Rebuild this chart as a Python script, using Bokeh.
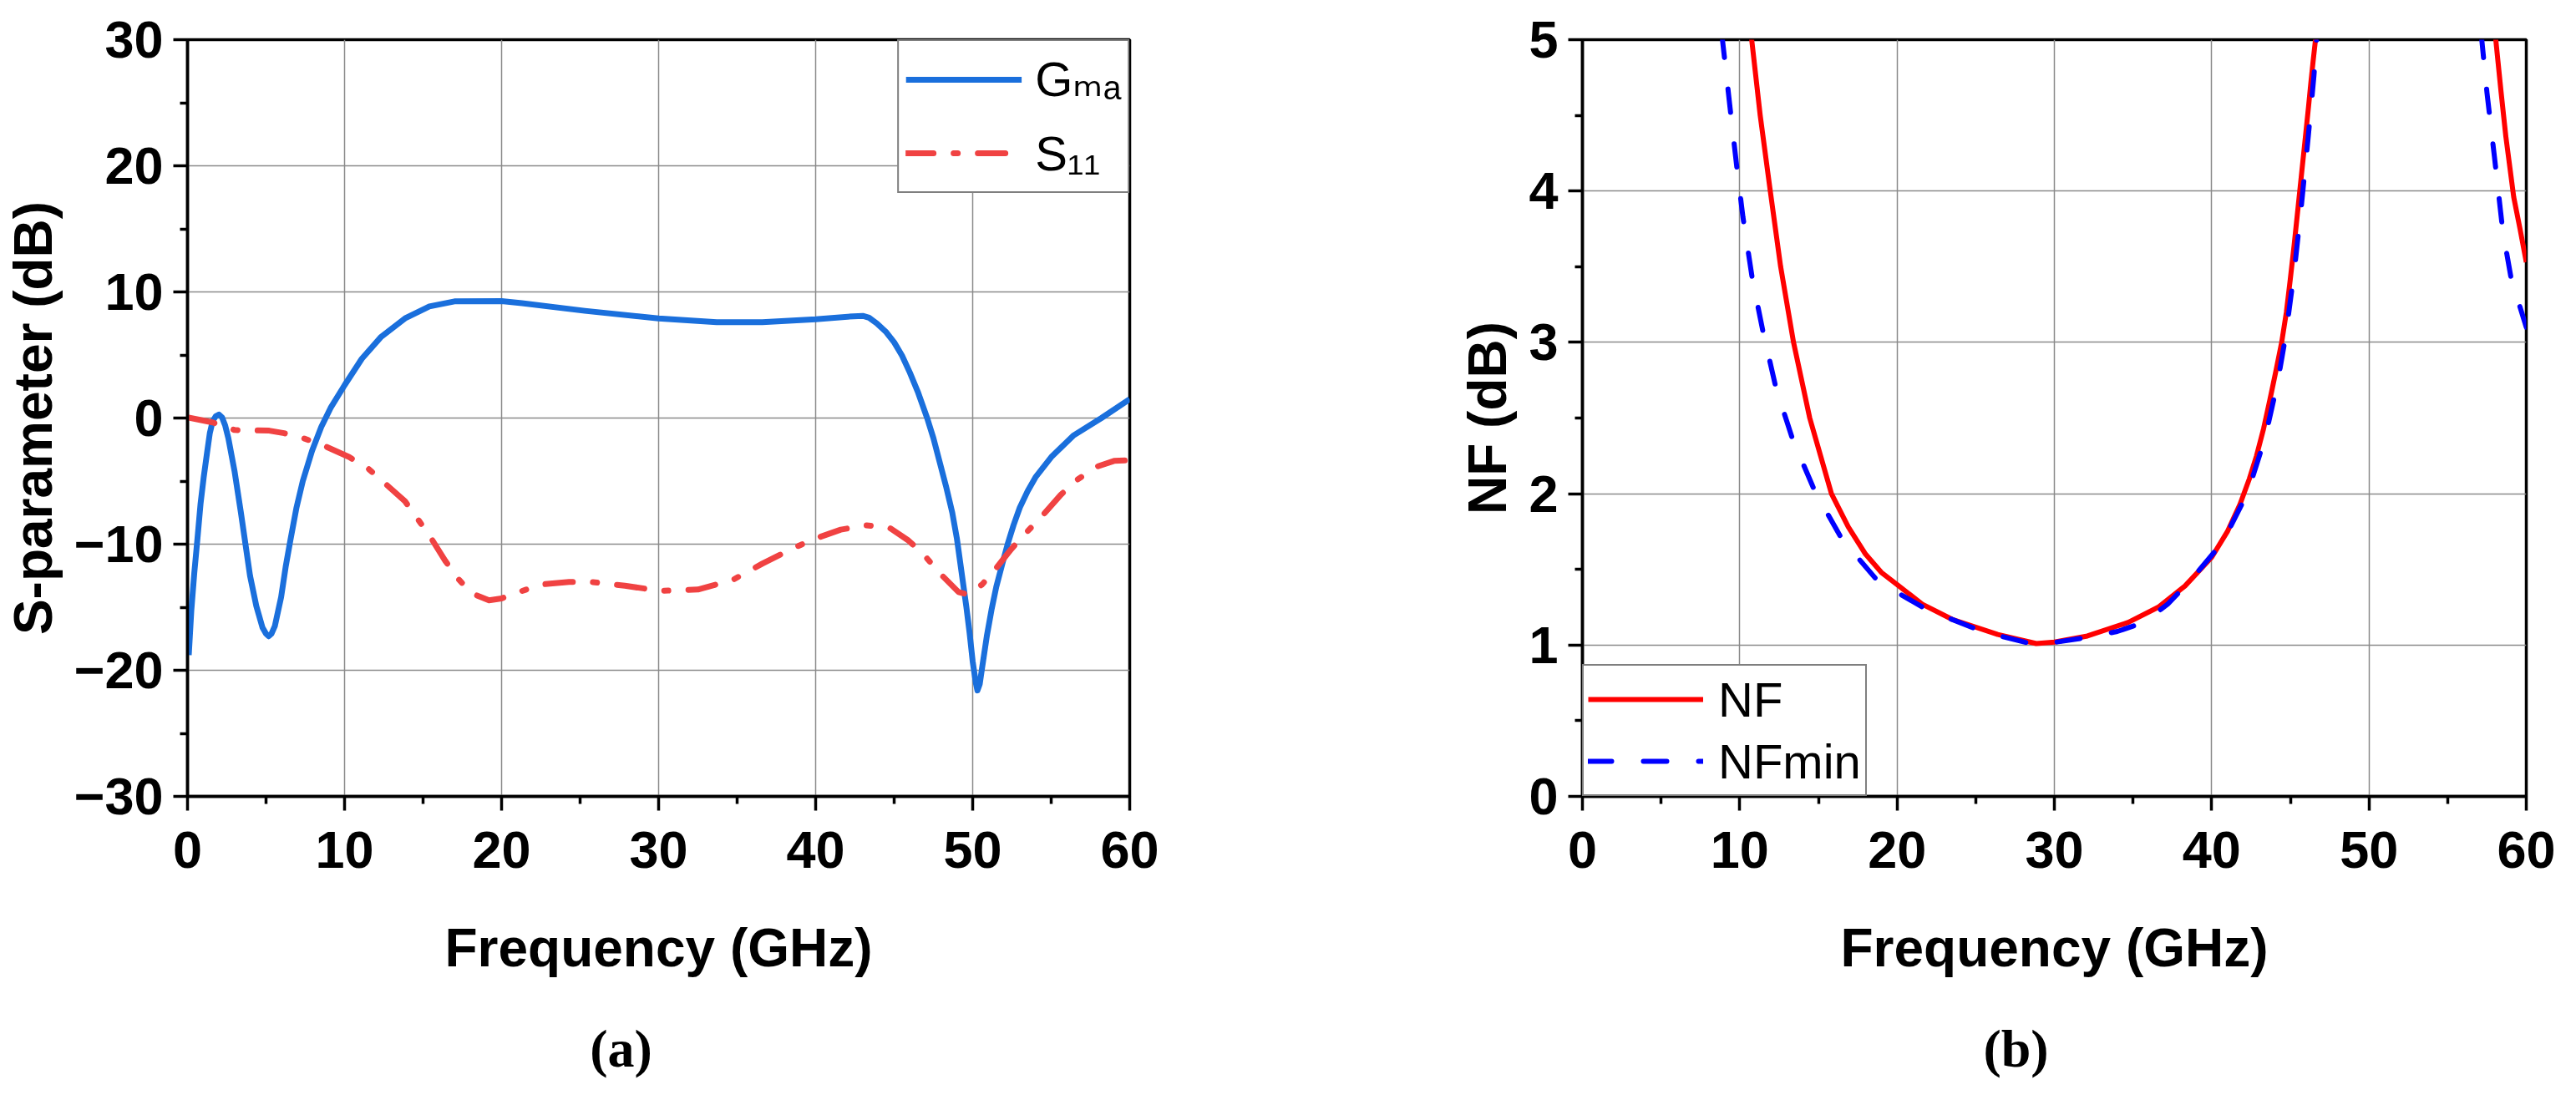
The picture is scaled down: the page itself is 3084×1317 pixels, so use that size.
from bokeh.plotting import figure
from bokeh.layouts import row, column
from bokeh.models import Range1d, FixedTicker
from bokeh.core.properties import value
from bokeh.embed import file_html
from bokeh.resources import INLINE

nan = float("nan")

# ---------------- data ----------------
gma_freq = [0.08, 0.24, 0.43, 0.63, 0.83, 1.03, 1.25, 1.42, 1.6, 1.8, 2.0, 2.2, 2.4, 2.6,
            3.0, 3.4, 3.69, 3.98, 4.38, 4.77, 5.0, 5.17, 5.35, 5.56, 5.96, 6.25, 6.55,
            6.94, 7.34, 7.93, 8.52, 9.11, 10.0, 11.1, 12.3, 13.85, 15.4,
            17.0, 20.0, 21.3, 25.3, 30.0, 33.7, 36.6, 40.0, 42.4, 43.0, 43.4, 43.9, 44.5,
            45.0, 45.5, 46.0, 46.5, 47.1, 47.5, 47.9, 48.3, 48.7, 49.0, 49.3, 49.6, 49.8,
            50.0, 50.2, 50.3, 50.45, 50.6, 50.9, 51.2, 51.5, 51.9, 52.25, 52.6, 53.0, 53.5,
            54.0, 55.0, 56.4, 58.2, 60.0]
gma_db = [-18.8, -15.3, -12.3, -9.6, -6.8, -4.7, -2.7, -1.2, -0.25, 0.15, 0.28, 0.05, -0.6, -1.6,
          -4.25, -7.5, -10.0, -12.5, -14.9, -16.6, -17.1, -17.3, -17.1, -16.5, -14.2, -11.8, -9.7,
          -7.1, -5.0, -2.6, -0.7, 0.8, 2.6, 4.7, 6.4, 7.9, 8.85,
          9.25, 9.27, 9.1, 8.5, 7.9, 7.6, 7.6, 7.83, 8.07, 8.1, 7.95, 7.5, 6.8,
          6.0, 4.95, 3.6, 2.1, 0.0, -1.6, -3.5, -5.4, -7.5, -9.6, -12.3, -15.0, -17.0,
          -19.3, -21.0, -21.6, -21.1, -19.8, -17.3, -15.2, -13.4, -11.5, -9.9, -8.5, -7.1, -5.8,
          -4.7, -3.1, -1.4, 0.0, 1.5]

s11_freq = [0.0, 1.6, 3.0, 5.2, 6.15, 7.5, 8.7, 10.3, 11.5, 12.5, 13.85, 14.6, 15.4, 16.4,
            17.2, 18.1, 19.2, 20.0, 21.1, 22.5, 24.3, 25.7, 27.85, 30.1, 32.5, 34.7, 36.6,
            38.6, 40.0, 41.6, 43.2, 44.7, 45.9, 46.9, 47.9, 49.1, 49.7, 50.6, 51.5, 52.45,
            53.4, 54.4, 55.6, 56.6, 57.8, 59.0, 60.0]
s11_db = [0.05, -0.35, -0.95, -1.0, -1.2, -1.65, -2.2, -3.1, -4.0, -5.1, -6.6, -7.9, -9.3, -11.3,
          -12.7, -13.9, -14.45, -14.3, -13.8, -13.2, -13.0, -13.0, -13.3, -13.7, -13.6, -12.85, -11.55,
          -10.3, -9.55, -8.85, -8.5, -8.7, -9.7, -10.85, -12.3, -13.8, -14.0, -13.2, -11.9, -10.4,
          -9.1, -7.8, -6.1, -4.95, -3.9, -3.4, -3.35]

nf_freq = [10.5, 10.76, 11.3, 11.94, 12.6, 13.42, 14.45, 15.83, 16.9, 18.0, 19.0, 20.0, 21.6,
           23.5, 26.4, 28.85, 30.0, 32.1, 34.7, 36.6, 38.3, 40.0, 41.0, 41.8, 42.4, 42.85, 43.3,
           43.7, 44.1, 44.45, 44.75, 45.0, 45.25, 45.5, 45.75, 45.96, 46.15, 46.3, 46.45, 46.6,
           46.75, nan, 57.95, 58.06, 58.4, 58.7, 59.2, 59.6, 60.0]
nf_db = [5.35, 5.0, 4.5, 4.0, 3.5, 3.0, 2.5, 2.0, 1.78, 1.6, 1.48, 1.4, 1.27,
         1.17, 1.07, 1.01, 1.02, 1.06, 1.15, 1.25, 1.39, 1.58, 1.75, 1.93, 2.1, 2.25, 2.43,
         2.62, 2.82, 3.0, 3.2, 3.42, 3.65, 3.9, 4.15, 4.36, 4.55, 4.71, 4.86, 5.0,
         5.4, nan, 5.4, 5.0, 4.65, 4.36, 3.96, 3.75, 3.53]

nfmin_freq = [8.8, 8.9, 9.18, 9.47, 9.8, 10.2, 10.8, 11.46, 12.3, 13.36, 14.8, 16.5, 18.8,
              21.8, 25.4, 28.85, 32.1, 34.0, 35.7, 37.2, 38.6, 40.7, 42.3, 43.4, 44.2, 44.7,
              45.25, 45.7, 46.14, 46.5, 46.67, 46.8, nan, 57.1, 57.17, 57.5, 57.97, 58.5,
              59.04, 60.0]
nfmin_db = [5.4, 5.0, 4.74, 4.47, 4.17, 3.83, 3.42, 3.08, 2.7, 2.36, 2.01, 1.7, 1.42,
            1.24, 1.09, 1.0, 1.05, 1.09, 1.15, 1.27, 1.42, 1.68, 2.01, 2.37, 2.74, 3.04,
            3.47, 3.9, 4.36, 4.76, 5.0, 5.4, nan, 5.4, 5.0, 4.65, 4.23, 3.74,
            3.42, 3.1]

x_ticks = [0, 10, 20, 30, 40, 50, 60]
x_minor = [5, 15, 25, 35, 45, 55]
s_ticks = [-30, -20, -10, 0, 10, 20, 30]
s_tick_labels = ["\u221230", "\u221220", "\u221210", "0", "10", "20", "30"]
s_minor = [-25, -15, -5, 5, 15, 25]
nf_ticks = [0, 1, 2, 3, 4, 5]
nf_minor = [0.5, 1.5, 2.5, 3.5, 4.5]
captions = ["(a)", "(b)"]

FONT = "Liberation Sans"
H_MAIN = 1214
H_CAP = 86
CAP_CENTER = 1255 - H_MAIN   # caption centre, px below the top of the caption strip


def style(p, xt, xm, yt, ym):
    p.xaxis.ticker = FixedTicker(ticks=xt, minor_ticks=xm)
    p.yaxis.ticker = FixedTicker(ticks=yt, minor_ticks=ym)
    for ax in (p.xaxis[0], p.yaxis[0]):
        ax.axis_line_width = 3.5
        ax.axis_line_color = "black"
        ax.major_tick_line_width = 3.5
        ax.minor_tick_line_width = 3.5
        ax.major_tick_line_color = "black"
        ax.minor_tick_line_color = "black"
        ax.major_tick_out = 17
        ax.major_tick_in = 0
        ax.minor_tick_out = 9
        ax.minor_tick_in = 0
        ax.major_label_text_font = FONT
        ax.major_label_text_font_style = "bold"
        ax.major_label_text_font_size = "63px"
        ax.major_label_text_color = "black"
        ax.axis_label_text_font = FONT
        ax.axis_label_text_font_style = "bold"
        ax.axis_label_text_font_size = "64px"
        ax.axis_label_text_color = "black"
    p.xaxis.major_label_standoff = 25
    p.xaxis.axis_label_standoff = 57
    p.yaxis.major_label_standoff = 12
    p.yaxis.axis_label_standoff = 10
    p.grid.grid_line_color = "#8a8a8a"
    p.grid.grid_line_width = 1.5
    p.outline_line_color = "black"
    p.outline_line_width = 3.5
    p.background_fill_color = "white"
    p.border_fill_color = "white"


def caption_fig(width, text, cx):
    c = figure(width=width, height=H_CAP, output_backend="svg", toolbar_location=None,
               x_range=Range1d(0, width), y_range=Range1d(0, H_CAP),
               x_axis_type=None, y_axis_type=None, min_border=0, title=None)
    c.grid.visible = False
    c.outline_line_color = None
    c.text(x=[cx], y=[H_CAP - CAP_CENTER], text=[text], text_font=value("Liberation Serif"),
           text_font_size="64px", text_font_style="bold", text_color="black",
           text_align="center", text_baseline="middle")
    return c


# ---------------- panel (a) ----------------
p1 = figure(width=1536, height=H_MAIN, output_backend="svg", toolbar_location=None,
            x_range=Range1d(0, 60), y_range=Range1d(-30, 30),
            min_border_left=222, min_border_right=184, min_border_top=47,
            min_border_bottom=H_MAIN - 953)
p1.line(gma_freq, gma_db, line_color="#1a6fdc", line_width=7, line_join="round",
        legend_label="G\u2098\u2090")
p1.line(s11_freq, s11_db, line_color="#f04242", line_width=7, line_cap="round",
        line_join="round", line_dash="33 24 5 24", legend_label="S\u2081\u2081")
style(p1, x_ticks, x_minor, s_ticks, s_minor)
p1.yaxis.major_label_overrides = {t: l for t, l in zip(s_ticks, s_tick_labels)}
p1.xaxis.axis_label = "Frequency (GHz)"
p1.yaxis.axis_label = "S-parameter (dB)"

# ---------------- panel (b) ----------------
p2 = figure(width=1530, height=H_MAIN, output_backend="svg", toolbar_location=None,
            x_range=Range1d(0, 60), y_range=Range1d(0, 5),
            min_border_left=358, min_border_right=42, min_border_top=47,
            min_border_bottom=H_MAIN - 953)
p2.line(nf_freq, nf_db, line_color="#ff0000", line_width=6, line_join="round",
        legend_label="NF")
p2.line(nfmin_freq, nfmin_db, line_color="#0000ff", line_width=6, line_cap="round",
        line_join="round", line_dash="28 38", legend_label="NFmin")
style(p2, x_ticks, x_minor, nf_ticks, nf_minor)
p2.xaxis.axis_label = "Frequency (GHz)"
p2.yaxis.axis_label = "NF (dB)"

# ---------------- legends ----------------
for p, loc, pad, h, sp, gw, so in ((p1, "top_right", 8, 76, 12, 139, 16),
                                   (p2, "bottom_left", 5, 70, 4, 138, 18)):
    lg = p.legend[0]
    lg.location = loc
    lg.margin = 0
    lg.padding = pad
    lg.spacing = sp
    lg.glyph_width = gw
    lg.glyph_height = h
    lg.label_height = h
    lg.label_standoff = so
    lg.label_text_font = FONT + ", DejaVu Sans"
    lg.label_text_font_size = "58px"
    lg.label_text_color = "black"
    lg.border_line_color = "black"
    lg.border_line_width = 2
    lg.background_fill_color = "white"
    lg.background_fill_alpha = 1.0

c1 = caption_fig(1536, captions[0], 743)
c2 = caption_fig(1530, captions[1], 877)

layout = column(row(p1, p2), row(c1, c2))
open("out.html", "w").write(file_html(layout, INLINE))
